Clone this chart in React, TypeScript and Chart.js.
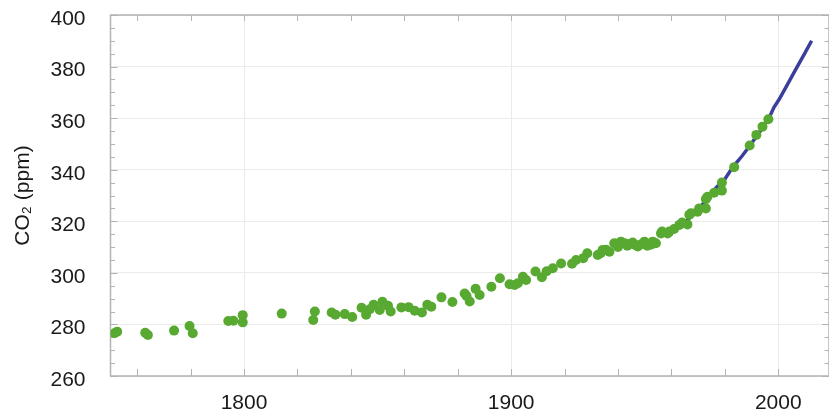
import React, { useEffect, useRef } from "react";
import { Chart, registerables } from "chart.js";

Chart.register(...registerables);

// Ice-core / firn CO2 measurements (green dots)
const iceYears = [
  1751.5, 1752.5, 1763.0, 1764.0, 1773.8, 1779.6, 1780.8, 1794.1, 1796.0, 1799.5,
  1799.5, 1814.1, 1825.9, 1826.5, 1832.8, 1834.2, 1837.7, 1840.5, 1844.0, 1845.7,
  1847.1, 1848.5, 1850.8, 1851.8, 1853.9, 1854.9, 1858.9, 1861.6, 1863.9, 1866.6,
  1868.6, 1870.1, 1873.9, 1878.0, 1882.6, 1883.3, 1884.5, 1886.7, 1888.2, 1892.6,
  1895.8, 1899.4, 1901.3, 1902.5, 1904.4, 1905.6, 1909.1, 1911.5, 1913.3, 1915.6,
  1918.7, 1922.8, 1924.3, 1927.0, 1928.5, 1932.4, 1933.5, 1934.3, 1935.5, 1936.8,
  1938.6, 1939.3, 1940.0, 1941.1, 1942.5, 1943.5, 1944.3, 1945.5, 1946.5, 1947.4,
  1948.5, 1949.9, 1951.0, 1952.5, 1953.0, 1954.2, 1956.1, 1956.5, 1958.6, 1959.2,
  1961.0, 1963.0, 1964.0, 1966.0, 1966.7, 1967.3, 1969.8, 1970.4, 1972.9, 1973.5,
  1972.9, 1976.0, 1978.9, 1978.9, 1983.5, 1989.3, 1991.8, 1994.1, 1996.3,
];
const iceCO2 = [
  276.6, 277.2, 276.8, 275.9, 277.6, 279.4, 276.6, 281.3, 281.4, 283.6,
  280.8, 284.2, 281.7, 285.0, 284.6, 283.8, 284.0, 282.9, 286.5, 283.8,
  285.9, 287.6, 285.6, 288.8, 287.2, 285.0, 286.6, 286.7, 285.3, 284.6,
  287.6, 286.9, 290.5, 288.7, 292.0, 291.0, 288.9, 293.8, 291.4, 294.6,
  297.9, 295.6, 295.3, 296.0, 298.5, 297.2, 300.5, 298.3, 300.6, 301.8,
  303.6, 303.5, 305.0, 305.7, 307.6, 306.9, 307.6, 308.9, 309.0, 308.2,
  311.5, 311.2, 310.0, 312.1, 311.5, 310.5, 311.2, 311.8, 310.8, 310.2,
  311.0, 312.1, 310.5, 311.0, 312.1, 311.5, 315.3, 316.0, 315.3, 316.0,
  317.0, 318.6, 319.5, 318.8, 322.5, 323.1, 323.7, 325.0, 328.6, 329.5,
  325.0, 331.1, 331.9, 335.0, 341.0, 349.4, 353.5, 356.7, 359.6,
];

// Atmospheric measurements (blue line)
const airYears = [
  1958, 1962, 1966, 1970, 1974, 1977, 1980, 1982, 1984, 1986.6,
  1989.7, 1992.2, 1994.5, 1996.6, 1998.4, 2000.3, 2003, 2006.5, 2009.6, 2012.5,
];
const airCO2 = [
  315, 318, 320.5, 324.5, 329.5, 333.3, 336.3, 339.5, 342.3, 345.5,
  349.8, 353.5, 356.8, 360.2, 364.2, 367.2, 372.2, 378.8, 384.5, 390,
];

const xLabelYears = [1800, 1900, 2000];
const xTickYears = [1760, 1780, 1800, 1820, 1840, 1860, 1880, 1900, 1920, 1940, 1960, 1980, 2000];
const yTickValues = [
  260, 265, 270, 275, 280, 285, 290, 295, 300, 305, 310, 315, 320, 325, 330, 335,
  340, 345, 350, 355, 360, 365, 370, 375, 380, 385, 390, 395, 400,
];

const X_MIN = 1750;
const X_MAX = 2019;
const Y_MIN = 260;
const Y_MAX = 400;

const GREEN = "#58a932";
const BLUE = "#3b3f9b";
const GRID = "#ebebeb";
const FRAME = "#b3b3b3";
const TEXT = "#1a1a1a";
const FONT = "'Liberation Sans', Arial, sans-serif";

const framePlugin = {
  id: "frameTicks",
  beforeDatasetsDraw(chart: any) {
    const { ctx, chartArea: a, scales } = chart;
    const x = scales.x;
    const y = scales.y;
    ctx.save();
    ctx.strokeStyle = FRAME;
    ctx.lineWidth = 1;
    const seg = (x1: number, y1: number, x2: number, y2: number) => {
      ctx.beginPath();
      ctx.moveTo(x1, y1);
      ctx.lineTo(x2, y2);
      ctx.stroke();
    };
    for (const v of xTickYears) {
      const px = Math.round(x.getPixelForValue(v)) + 0.5;
      seg(px, a.bottom, px, a.bottom - 7);
      seg(px, a.top, px, a.top + 6);
    }
    for (const v of yTickValues) {
      const py = Math.round(y.getPixelForValue(v)) + 0.5;
      const len = v % 20 === 0 ? 7 : 4.5;
      seg(a.left, py, a.left + len, py);
      seg(a.right, py, a.right - len, py);
    }
    ctx.lineWidth = 1.5;
    ctx.strokeRect(a.left, a.top, a.right - a.left, a.bottom - a.top);
    ctx.restore();
  },
};

export default function App() {
  const canvasRef = useRef<HTMLCanvasElement | null>(null);

  useEffect(() => {
    document.body.style.margin = "0";
    const canvas = canvasRef.current;
    if (!canvas) return;
    const dots = iceYears.map((yr, i) => ({ x: yr, y: iceCO2[i] }));
    const line = airYears.map((yr, i) => ({ x: yr, y: airCO2[i] }));
    const chart = new Chart(canvas, {
      type: "scatter",
      data: {
        datasets: [
          {
            label: "Ice core",
            data: dots,
            backgroundColor: GREEN,
            borderColor: GREEN,
            borderWidth: 0,
            pointRadius: 5,
            pointHoverRadius: 5,
            showLine: false,
          },
          {
            label: "Atmosphere",
            data: line,
            borderColor: BLUE,
            backgroundColor: BLUE,
            borderWidth: 3.5,
            pointRadius: 0,
            showLine: true,
            tension: 0,
          },
        ],
      },
      options: {
        responsive: false,
        animation: false,
        devicePixelRatio: 1,
        layout: { autoPadding: false, padding: { top: 15, right: 0, left: 0, bottom: 0 } },
        plugins: {
          legend: { display: false },
          tooltip: { enabled: false },
        },
        scales: {
          x: {
            type: "linear",
            position: "bottom",
            min: X_MIN,
            max: X_MAX,
            afterBuildTicks: (s: any) => {
              s.ticks = xLabelYears.map((v) => ({ value: v }));
            },
            afterFit: (s: any) => {
              s.height = 37;
              s.paddingLeft = 0;
              s.paddingRight = 0;
            },
            grid: { color: GRID, lineWidth: 1, drawTicks: false },
            border: { display: false },
            ticks: {
              padding: 15,
              color: TEXT,
              font: { family: FONT, size: 21 },
              maxRotation: 0,
              callback: (v: any) => String(v),
            },
          },
          y: {
            type: "linear",
            min: Y_MIN,
            max: Y_MAX,
            afterFit: (s: any) => {
              s.width = 110.5;
              s.paddingTop = 0;
              s.paddingBottom = 0;
            },
            grid: { color: GRID, lineWidth: 1, drawTicks: false },
            border: { display: false },
            ticks: {
              stepSize: 20,
              padding: 25,
              labelOffset: 4,
              color: TEXT,
              font: { family: FONT, size: 21 },
            },
            title: {
              display: true,
              text: "CO\u2082 (ppm)",
              color: TEXT,
              font: { family: FONT, size: 21 },
              padding: { top: 11, bottom: 0 },
            },
          },
        },
      },
      plugins: [framePlugin],
    });
    return () => chart.destroy();
  }, []);

  return (
    <div style={{ width: 829, height: 413, position: "relative", background: "#fff" }}>
      <canvas ref={canvasRef} width={829} height={413} style={{ display: "block", width: 829, height: 413 }} />
    </div>
  );
}
